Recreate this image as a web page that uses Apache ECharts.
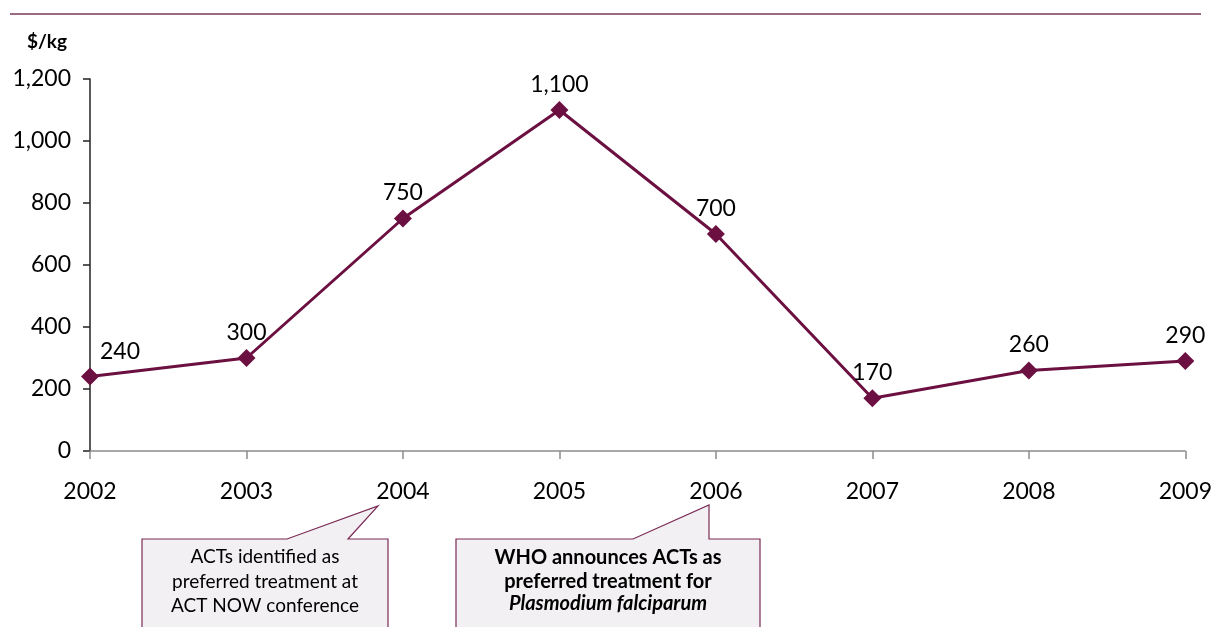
<!DOCTYPE html>
<html>
<head>
<meta charset="utf-8">
<title>$/kg</title>
<script src="https://cdn.jsdelivr.net/npm/echarts@6/dist/echarts.min.js"></script>
<style>
  html, body { margin: 0; padding: 0; background: #fff; }
  #main { width: 1215px; height: 627px; }
</style>
</head>
<body>
<div id="main"></div>
<script>
// data
var years = ["2002", "2003", "2004", "2005", "2006", "2007", "2008", "2009"];
var prices = [240, 300, 750, 1100, 700, 170, 260, 290];
var yTicks = [0, 200, 400, 600, 800, 1000, 1200];

var lineColor = "#6b1040";
var fontFam = "Lato, 'Open Sans', sans-serif";

var chart = echarts.init(document.getElementById("main"));

// first label sits to the right so it clears the y axis
var seriesData = prices.map(function (v, i) {
  if (i === 0) {
    return { value: v, label: { offset: [30, 0] } };
  }
  return v;
});

chart.setOption({
  animation: false,
  backgroundColor: "#fff",
  grid: { left: 90, right: 28, top: 79, bottom: 176, containLabel: false },
  xAxis: {
    type: "category",
    data: years,
    boundaryGap: false,
    axisLine: { lineStyle: { color: "#8c8c8c", width: 1.5 } },
    axisTick: { show: true, alignWithLabel: true, length: 8, lineStyle: { color: "#8c8c8c", width: 1.5 } },
    axisLabel: { color: "#000", fontSize: 23, fontFamily: fontFam, margin: 29 }
  },
  yAxis: {
    type: "value",
    min: yTicks[0],
    max: yTicks[yTicks.length - 1],
    interval: 200,
    splitLine: { show: false },
    axisLine: { show: true, lineStyle: { color: "#222", width: 1.5 } },
    axisTick: { show: true, length: 7, lineStyle: { color: "#222", width: 1.5 } },
    axisLabel: {
      color: "#000",
      fontSize: 23,
      fontFamily: fontFam,
      margin: 19,
      formatter: function (v) { return v.toLocaleString("en-US"); }
    }
  },
  series: [
    {
      type: "line",
      data: seriesData,
      symbol: "diamond",
      symbolSize: 18,
      lineStyle: { color: lineColor, width: 3 },
      itemStyle: { color: lineColor },
      label: {
        show: true,
        position: "top",
        distance: 5,
        color: "#000",
        fontSize: 23,
        fontFamily: fontFam,
        formatter: function (p) { return p.value.toLocaleString("en-US"); }
      }
    }
  ],
  graphic: [
    // rule across the top
    {
      type: "line",
      shape: { x1: 10, y1: 14, x2: 1201, y2: 14 },
      style: { stroke: "#7a3a5e", lineWidth: 1.5 }
    },
    {
      type: "text",
      left: 27,
      top: 32,
      style: { text: "$/kg", font: "bold 19px " + fontFam, fill: "#000" }
    },
    // callout 1
    {
      type: "polygon",
      shape: { points: [[142, 539], [287, 539], [378, 506], [348, 539], [388, 539], [388, 640], [142, 640]] },
      style: { fill: "#f2f0f2", stroke: "#7a2a55", lineWidth: 1.2 }
    },
    {
      type: "text",
      x: 265,
      y: 545,
      style: {
        text: "ACTs identified as\npreferred treatment at\nACT NOW conference",
        font: "19px " + fontFam,
        fill: "#000",
        align: "center",
        lineHeight: 24.5
      }
    },
    // callout 2
    {
      type: "polygon",
      shape: { points: [[456, 539], [633, 539], [709, 505], [709, 539], [760, 539], [760, 640], [456, 640]] },
      style: { fill: "#f2f0f2", stroke: "#7a2a55", lineWidth: 1.2 }
    },
    {
      type: "text",
      x: 608,
      y: 545,
      style: {
        text: "WHO announces ACTs as\npreferred treatment for",
        font: "bold 20px " + fontFam,
        fill: "#000",
        align: "center",
        lineHeight: 24.5
      }
    },
    {
      type: "text",
      x: 608,
      y: 594,
      style: {
        text: "Plasmodium falciparum",
        font: "italic bold 20px " + fontFam,
        fill: "#000",
        align: "center"
      }
    }
  ]
});
</script>
</body>
</html>
